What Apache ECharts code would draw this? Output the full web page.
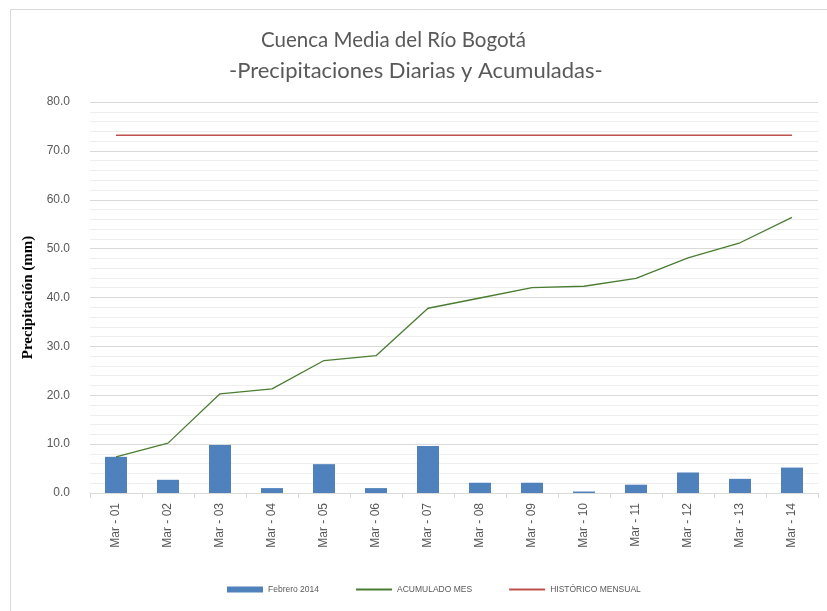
<!DOCTYPE html>
<html>
<head>
<meta charset="utf-8">
<script src="https://cdn.jsdelivr.net/npm/echarts@6/dist/echarts.min.js"></script>
<style>
  html, body { margin: 0; padding: 0; background: #fff; }
  #chart { width: 827px; height: 611px; }
</style>
</head>
<body>
<div id="chart"></div>
<script>
// --- datos ---
const dias = ['Mar - 01', 'Mar - 02', 'Mar - 03', 'Mar - 04', 'Mar - 05', 'Mar - 06', 'Mar - 07',
              'Mar - 08', 'Mar - 09', 'Mar - 10', 'Mar - 11', 'Mar - 12', 'Mar - 13', 'Mar - 14'];
const diaria = [7.4, 2.7, 9.8, 1.0, 5.9, 1.0, 9.6, 2.1, 2.1, 0.3, 1.7, 4.2, 2.9, 5.2];
const acumulado = [7.4, 10.2, 20.3, 21.3, 27.1, 28.1, 37.8, 39.9, 42.0, 42.3, 43.9, 48.1, 51.2, 56.4];
const historico = [73.2, 73.2, 73.2, 73.2, 73.2, 73.2, 73.2, 73.2, 73.2, 73.2, 73.2, 73.2, 73.2, 73.2];

const TEXT = '#595959';

const chart = echarts.init(document.getElementById('chart'));

chart.setOption({
  backgroundColor: '#fff',
  animation: false,
  graphic: [{
    type: 'rect',
    shape: { x: 10.5, y: 9.5, width: 900, height: 700 },
    style: { fill: 'none', stroke: '#d9d9d9', lineWidth: 1 },
    silent: true
  }],
  // dos líneas del título
  title: [
    {
      text: 'Cuenca Media del Río Bogotá',
      left: 261,
      top: 30,
      padding: 0,
      textStyle: { color: TEXT, fontFamily: 'Lato', fontWeight: 'normal', fontSize: 20.5 }
    },
    {
      text: '-Precipitaciones Diarias y Acumuladas-',
      left: 229,
      top: 60,
      padding: 0,
      textStyle: { color: TEXT, fontFamily: 'Lato', fontWeight: 'normal', fontSize: 22 }
    }
  ],
  legend: {
    bottom: 12,
    left: 222,
    itemGap: 36,
    itemWidth: 36,
    itemHeight: 6,
    textStyle: { color: TEXT, fontSize: 8.5, fontFamily: 'Arial' },
    data: [
      { name: 'Febrero 2014', icon: 'rect' },
      { name: 'ACUMULADO MES', itemStyle: { opacity: 0 } },
      { name: 'HISTÓRICO MENSUAL', itemStyle: { opacity: 0 } }
    ]
  },
  grid: { left: 90, right: 9, top: 102, bottom: 118 },
  xAxis: {
    type: 'category',
    data: dias,
    axisLine: { lineStyle: { color: '#d9d9d9' } },
    axisTick: { show: true, length: 5, lineStyle: { color: '#d9d9d9' } },
    axisLabel: {
      rotate: 90,
      color: TEXT,
      fontSize: 12,
      fontFamily: 'Arial',
      margin: 10
    }
  },
  yAxis: {
    type: 'value',
    min: 0,
    max: 80,
    interval: 10,
    name: 'Precipitación (mm)',
    nameLocation: 'middle',
    nameGap: 54,
    nameTextStyle: {
      color: '#000',
      fontFamily: 'Liberation Serif',
      fontWeight: 'bold',
      fontSize: 15
    },
    axisLine: { show: false },
    axisTick: { show: false },
    axisLabel: {
      color: TEXT,
      fontSize: 12,
      fontFamily: 'Arial',
      margin: 20,
      formatter: v => v.toFixed(1)
    },
    splitLine: { lineStyle: { color: '#d9d9d9' } },
    minorTick: { show: false, splitNumber: 5 },
    minorSplitLine: { show: true, lineStyle: { color: '#eeeeee' } }
  },
  series: [
    {
      name: 'Febrero 2014',
      type: 'bar',
      data: diaria,
      barWidth: 22,
      itemStyle: { color: '#4f81bd' }
    },
    {
      name: 'ACUMULADO MES',
      type: 'line',
      data: acumulado,
      symbol: 'none',
      lineStyle: { color: '#4a7d32', width: 1.3 },
      itemStyle: { color: '#4a7d32' }
    },
    {
      name: 'HISTÓRICO MENSUAL',
      type: 'line',
      data: historico,
      symbol: 'none',
      lineStyle: { color: '#c0504d', width: 1.3 },
      itemStyle: { color: '#c0504d' }
    }
  ]
});
</script>
</body>
</html>
